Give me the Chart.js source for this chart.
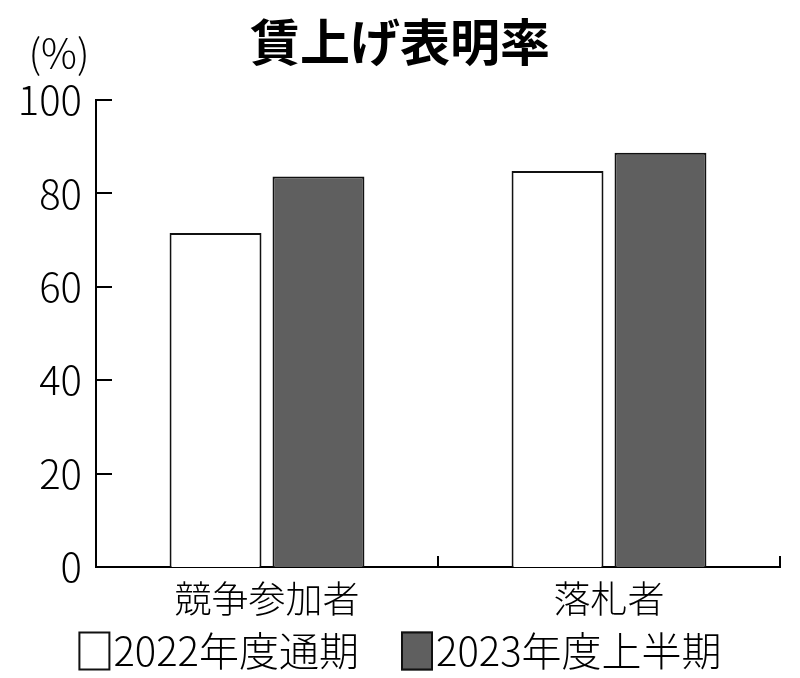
<!DOCTYPE html>
<html lang="ja">
<head>
<meta charset="utf-8">
<title>賃上げ表明率</title>
<script src="https://cdn.jsdelivr.net/npm/chart.js@4.4.0/dist/chart.umd.min.js"></script>
<style>
  html, body { margin: 0; padding: 0; background: #fff; }
</style>
</head>
<body>
<canvas id="wageChart" width="800" height="678"></canvas>
<script>
// data
const categories = ['競争参加者', '落札者'];
const seriesNames = ['2022年度通期', '2023年度上半期'];
const values2022 = [71.5, 84.8];
const values2023 = [83.6, 88.7];
const yTicks = [0, 20, 40, 60, 80, 100];
const titleText = '賃上げ表明率';
const unitText = '(%)';

const lightFamily = '"Noto Sans CJK JP Light", "Noto Sans CJK JP", "Noto Sans", sans-serif';
Chart.defaults.font.family = lightFamily;
Chart.defaults.font.weight = 300;
Chart.defaults.color = '#000';

// tick marks pointing into the plot, unit label and the legend row
const extras = {
    id: 'extras',
    afterDraw(chart) {
        const ctx = chart.ctx;
        const area = chart.chartArea;
        const x = chart.scales.x;
        const y = chart.scales.y;
        ctx.save();
        ctx.strokeStyle = '#000';
        ctx.lineWidth = 2;
        ctx.beginPath();
        y.ticks.forEach(t => {
            const py = Math.round(y.getPixelForValue(t.value));
            ctx.moveTo(area.left, py);
            ctx.lineTo(area.left + 16, py);
        });
        for (let i = 0; i <= categories.length; i++) {
            const px = Math.round(x.getPixelForValue(i - 0.5));
            ctx.moveTo(px, area.bottom);
            ctx.lineTo(px, area.bottom - 11);
        }
        ctx.stroke();

        ctx.fillStyle = '#000';
        ctx.font = '300 40px ' + lightFamily;
        ctx.textAlign = 'center';
        ctx.textBaseline = 'middle';
        ctx.fillText(unitText, 59, 53);

        // legend
        ctx.font = '300 40px ' + lightFamily;
        ctx.textAlign = 'left';
        const boxW = 32, boxH = 39, gap = 3, itemGap = 42;
        const sets = chart.data.datasets;
        let total = 0;
        sets.forEach((ds, i) => {
            total += boxW + gap + ctx.measureText(ds.label).width;
            if (i > 0) total += itemGap;
        });
        let cx = (chart.width - total) / 2;
        const cy = 651;
        sets.forEach(ds => {
            ctx.fillStyle = ds.backgroundColor;
            ctx.fillRect(cx, cy - boxH / 2, boxW, boxH);
            ctx.strokeStyle = '#111';
            ctx.lineWidth = 2;
            ctx.strokeRect(cx + 1, cy - boxH / 2 + 1, boxW - 2, boxH - 2);
            ctx.fillStyle = '#000';
            ctx.fillText(ds.label, cx + boxW + gap, cy);
            cx += boxW + gap + ctx.measureText(ds.label).width + itemGap;
        });
        ctx.restore();
    }
};

const ctx = document.getElementById('wageChart').getContext('2d');
const wageChart = new Chart(ctx, {
    type: 'bar',
    data: {
        labels: categories,
        datasets: [{
            label: seriesNames[0],
            data: values2022,
            backgroundColor: '#ffffff',
            borderColor: '#111111',
            borderWidth: 2,
            categoryPercentage: 0.602,
            barPercentage: 0.893
        }, {
            label: seriesNames[1],
            data: values2023,
            backgroundColor: '#5f5f5f',
            borderColor: '#111111',
            borderWidth: 2,
            categoryPercentage: 0.602,
            barPercentage: 0.893
        }]
    },
    options: {
        responsive: false,
        animation: false,
        layout: { padding: { top: 0, left: 20, right: 20, bottom: 0 } },
        plugins: {
            legend: { display: false },
            tooltip: { enabled: false },
            title: {
                display: true,
                text: titleText,
                font: { family: '"Noto Sans CJK JP", sans-serif', size: 50, weight: 'bold' },
                color: '#000',
                padding: { top: 12, bottom: 28 }
            }
        },
        scales: {
            x: {
                z: 1,
                grid: { display: false, drawTicks: false },
                border: { display: true, color: '#000', width: 2 },
                ticks: { font: { size: 37 }, color: '#000', padding: 10 },
                afterFit(scale) { scale.height = 111; }
            },
            y: {
                z: 1,
                min: 0,
                max: 100,
                afterBuildTicks(scale) { scale.ticks = yTicks.map(v => ({ value: v })); },
                grid: { display: false, drawTicks: false },
                border: { display: true, color: '#000', width: 2 },
                ticks: { font: { size: 40 }, color: '#000', padding: 14 },
                afterFit(scale) { scale.width = 76; }
            }
        }
    },
    plugins: [extras]
});
</script>
</body>
</html>
